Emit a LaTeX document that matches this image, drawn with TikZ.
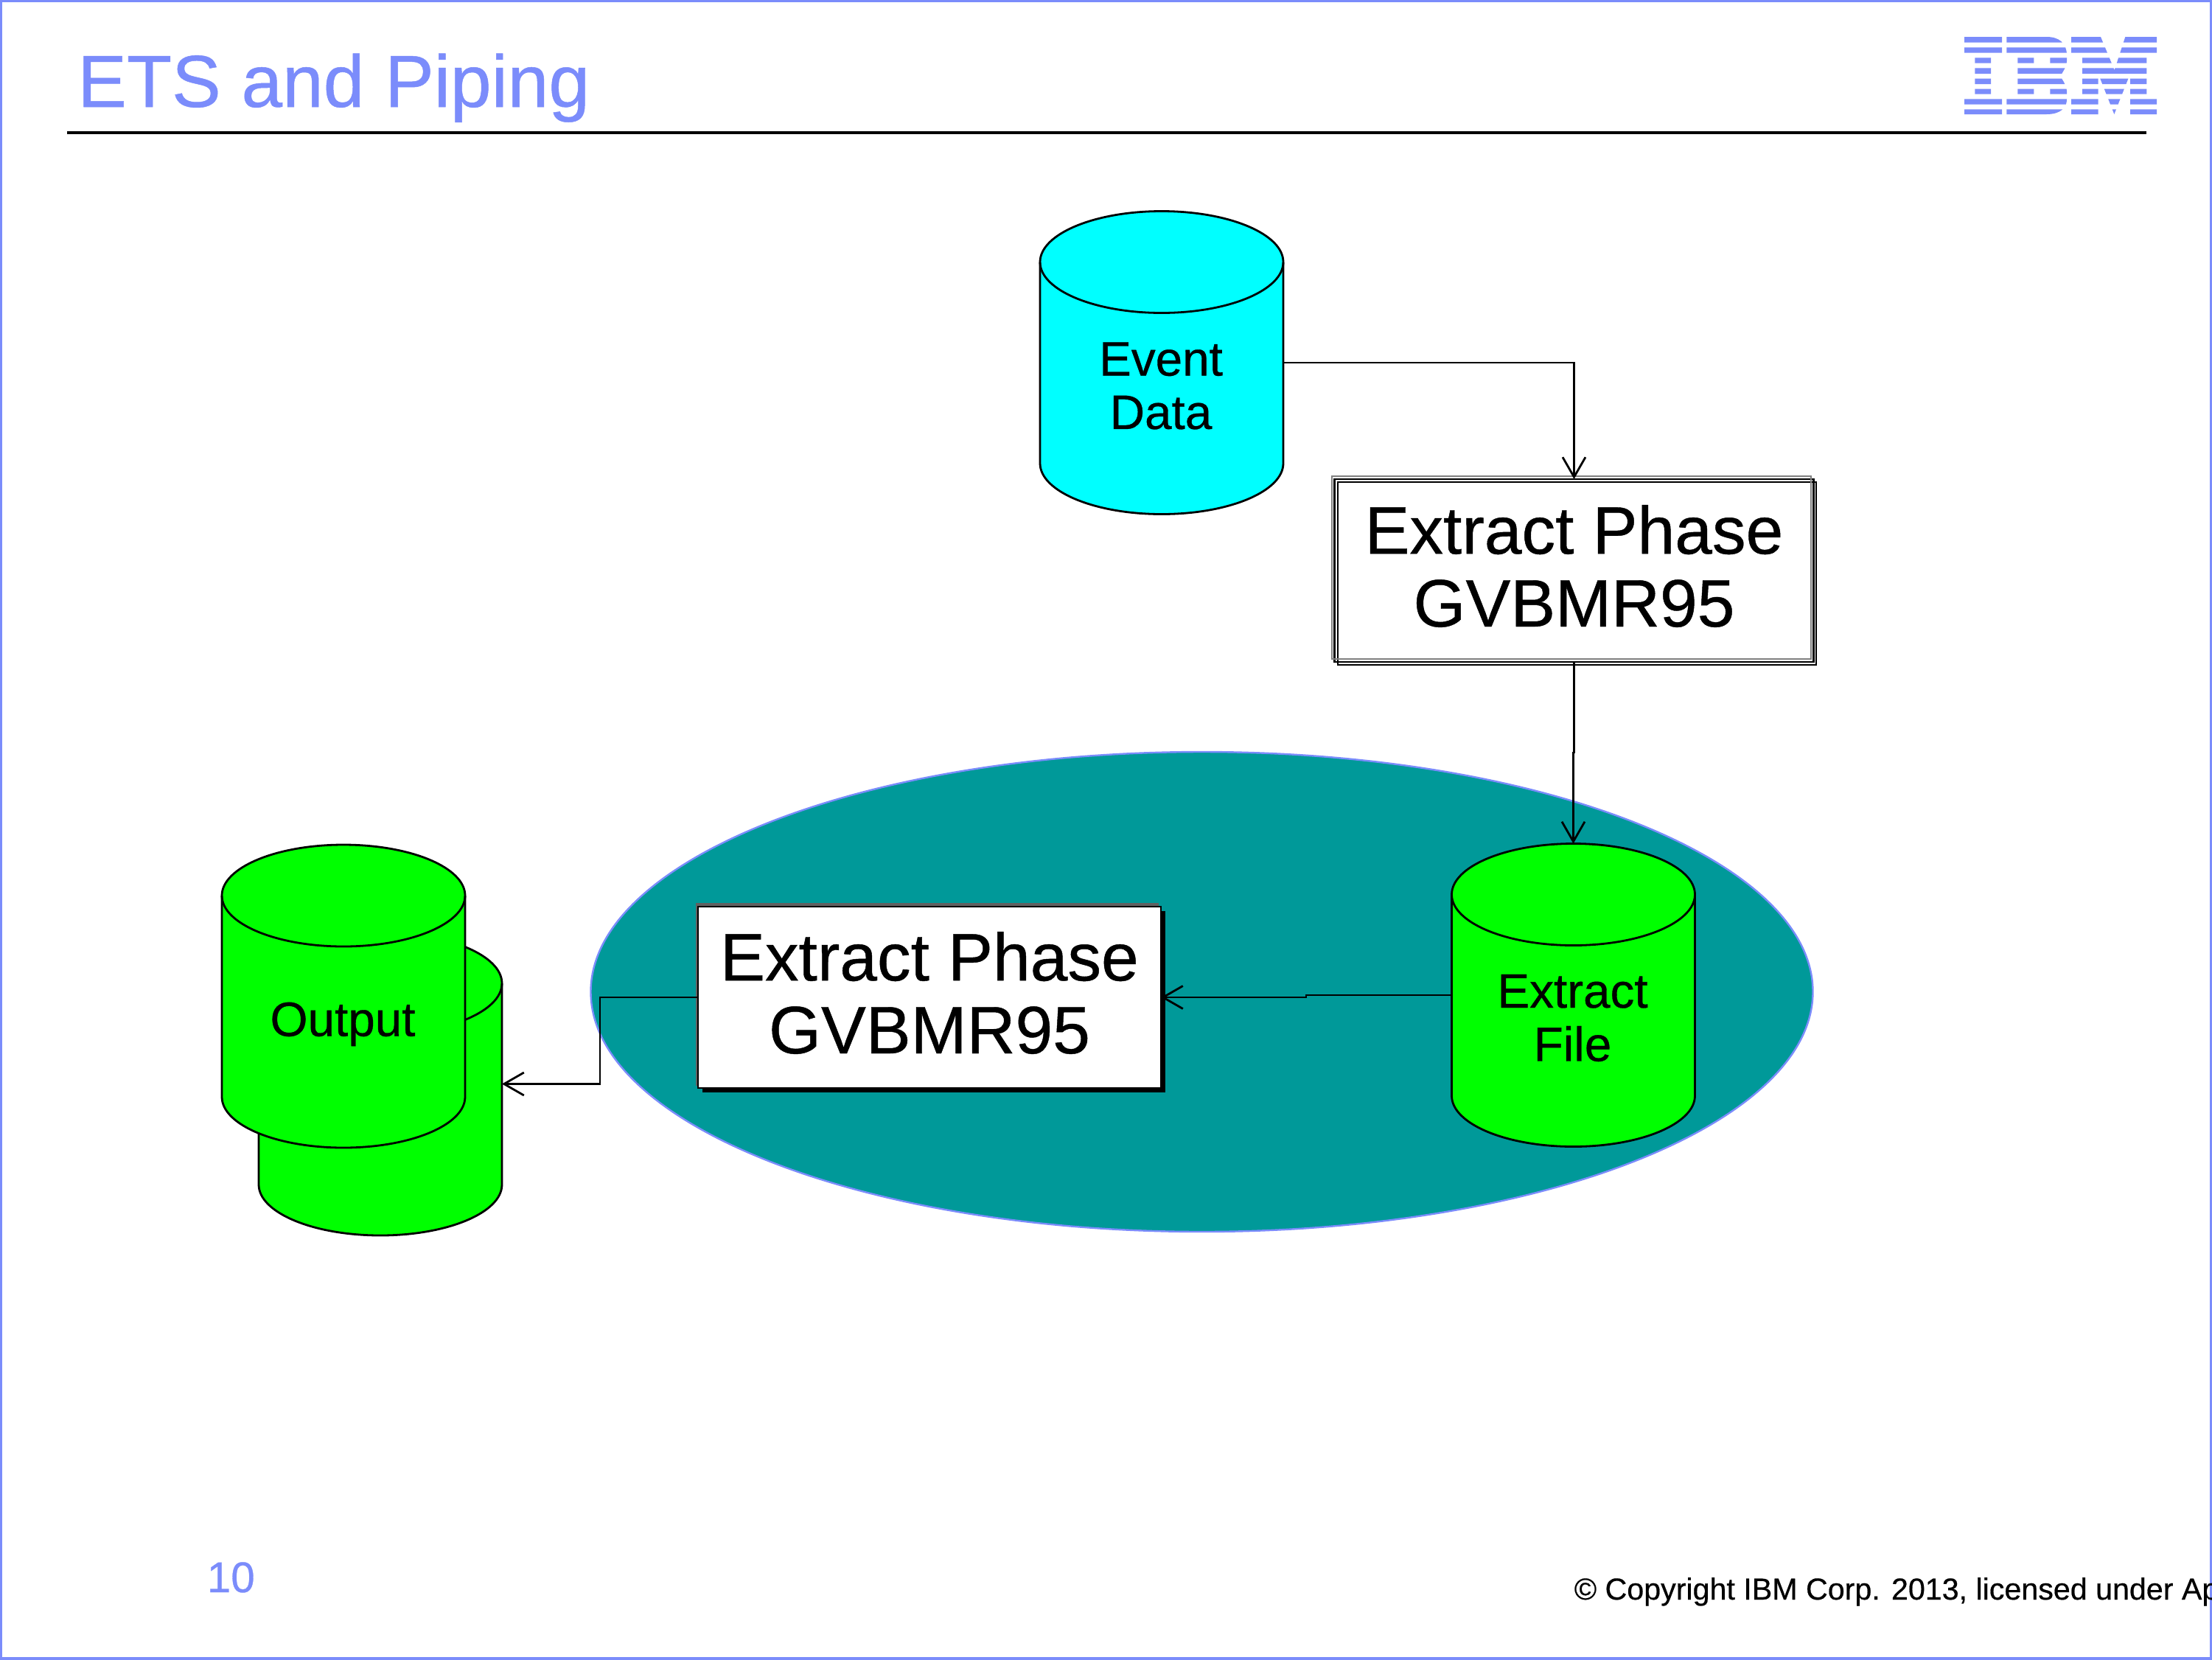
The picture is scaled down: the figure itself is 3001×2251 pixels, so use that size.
\documentclass[tikz,border=0pt]{standalone}
\usepackage{fontspec}
\setmainfont[FakeBold=0.5,AutoFakeBold=false]{Liberation Sans}
\usetikzlibrary{shapes.geometric,arrows.meta}
\definecolor{ibmblue}{HTML}{7B8CFB}
\definecolor{dbcyan}{HTML}{00FFFF}
\definecolor{dbgreen}{HTML}{00FF00}
\definecolor{teal}{HTML}{009999}
\newcommand{\fpx}[2]{\fontsize{#1}{#2}\selectfont}
\newcommand{\dbcyl}[4]{%
  \draw[cylline,fill=#4,shift={(#2,#3)}] (-165,-136.5) -- (-165,136.5)
    .. controls (-165,174.6) and (-91,205.5) .. (0,205.5)
    .. controls (91,205.5) and (165,174.6) .. (165,136.5) -- (165,-136.5)
    .. controls (165,-174.6) and (91,-205.5) .. (0,-205.5)
    .. controls (-91,-205.5) and (-165,-174.6) .. (-165,-136.5) -- cycle;
  \draw[cylline,shift={(#2,#3)}] (-165,-136.5)
    .. controls (-165,-98.4) and (-91,-67.5) .. (0,-67.5)
    .. controls (91,-67.5) and (165,-98.4) .. (165,-136.5);
  \node[anchorbox,minimum width=82.5pt,minimum height=102.75pt] (#1) at (#2,#3) {};
}
\begin{document}
\begin{tikzpicture}[x=0.25pt,y=-0.25pt,
  cylline/.style={draw=black,line width=0.7pt},
  anchorbox/.style={rectangle,inner sep=0pt,outer sep=0pt},
  conn/.style={draw=black,line width=0.7pt},
  arrowconn/.style={conn,-{Straight Barb[length=6.75pt,width=7.75pt,line width=0.7pt]}},
  boxtext/.style={inner sep=0pt,align=center,font=\fpx{22.8pt}{24.7pt}},
  cyltext/.style={inner sep=0pt,align=center,font=\fpx{16.4pt}{18.1pt}},
]
\useasboundingbox (0,0) rectangle (3001,2251);
\fill[white] (0,0) rectangle (3001,2251);
\draw[ibmblue,line width=0.85pt] (1,1) rectangle (2999.5,2250);

% title and rule
\node[anchor=base west,inner sep=0pt,text=ibmblue,font=\fpx{25pt}{30pt}] (title) at (104.5,145) {ETS and Piping};
\coordinate (ruleL) at (91,180);
\coordinate (ruleR) at (2912,180);
\draw[black,line width=0.8pt] (ruleL) -- (ruleR);

% logo
\begin{scope}[shift={(2600,20)},x=0.08333pt,y=-0.08333pt]
  \clip (0,90) rectangle (1200,113) (0,133) rectangle (1200,155)
        (0,175) rectangle (1200,197) (0,217) rectangle (1200,240)
        (0,260) rectangle (1200,282) (0,302) rectangle (1200,323)
        (0,343) rectangle (1200,365) (0,385) rectangle (1200,405);
  \fill[ibmblue] (195,90) -- (348,90) -- (348,155) -- (303,155) -- (303,343) -- (348,343)
    -- (348,405) -- (195,405) -- (195,343) -- (238,343) -- (238,155) -- (195,155) -- cycle;
  \fill[ibmblue,even odd rule] (367,90) -- (530,90) .. controls (580,90) and (612,115) .. (612,165)
    -- (612,190) .. controls (612,205) and (602,225) .. (585,250)
    .. controls (602,275) and (612,295) .. (612,310) -- (612,345)
    .. controls (612,375) and (590,405) .. (530,405) -- (367,405) -- (367,343) -- (412,343)
    -- (412,155) -- (367,155) -- cycle
    (478,165) rectangle (544,207) (478,292) rectangle (544,333);
  \fill[ibmblue] (630,90) -- (750,90) -- (806,225) -- (850,90) -- (978,90) -- (978,155) -- (937,155)
    -- (937,343) -- (978,343) -- (978,405) -- (870,405) -- (870,240) -- (805,405) -- (740,240)
    -- (740,405) -- (630,405) -- (630,343) -- (675,343) -- (675,155) -- (630,155) -- cycle;
\end{scope}

% teal ellipse
\node[ellipse,draw=ibmblue,fill=teal,line width=0.6pt,inner sep=0pt,outer sep=0pt,
  minimum width=414.5pt,minimum height=162.75pt] (cloud) at (1630.5,1345.5) {};

% cylinders
\dbcyl{event}{1576}{492}{dbcyan}
\node[cyltext] (eventtxt) at (1575,523.5) {Event\\Data};
\dbcyl{file}{2134.5}{1350}{dbgreen}
\node[cyltext] (filetxt) at (2133.5,1381) {Extract\\File};
\dbcyl{outback}{516}{1470.5}{dbgreen}
\dbcyl{outfront}{466}{1351.5}{dbgreen}
\node[anchor=base,inner sep=0pt,font=\fpx{16.4pt}{18.25pt}] (outtxt) at (465,1405.5) {Output};

% first extract box
\draw[gray,line width=0.6pt] (1807,646) rectangle (2457,894);
\fill[white] (1811,650) rectangle (2457,894);
\draw[black,line width=0.65pt] (1815,654) rectangle (2464,902);
\node[rectangle,draw=black,line width=0.65pt,inner sep=0pt,outer sep=0pt,
  minimum width=162.5pt,minimum height=62pt] (ext1) at (2135.5,774) {};
\draw[gray,line width=0.6pt] (1807,646) rectangle (2457,894);
\node[boxtext] (ext1txt) at (2135.5,768) {Extract Phase\\GVBMR95};

% second extract box
\fill[black!62] (944,1225) rectangle (1572,1473);
\fill[black] (953,1236) rectangle (1581,1482);
\node[rectangle,draw=black,fill=white,line width=0.7pt,inner sep=0pt,outer sep=0pt,
  minimum width=157pt,minimum height=61.5pt] (ext2) at (1261,1353) {};
\node[boxtext] (ext2txt) at (1261,1347) {Extract Phase\\GVBMR95};

% page furniture
\node[anchor=base west,inner sep=0pt,text=ibmblue,font=\fpx{14.6pt}{18pt}] (pageno) at (280,2160) {10};
\node[anchor=base west,inner sep=0pt,font=\fpx{10.3pt}{12pt}] (copyr) at (2135,2170) {© Copyright IBM Corp. 2013, licensed under Ap};

% connectors
\coordinate (jogA) at (2135.5,1021);
\coordinate (jogB) at (1772,1350);
\coordinate (elbow) at (814,1353);
\draw[arrowconn] (event.east) -| (ext1.north);
\draw[arrowconn] (ext1.south) -- (jogA) -| (file.north);
\draw[arrowconn] (file.west) -- (jogB) |- (ext2.east);
\draw[arrowconn] (ext2.west) -- (elbow) |- (outback.east);
\end{tikzpicture}
\end{document}
